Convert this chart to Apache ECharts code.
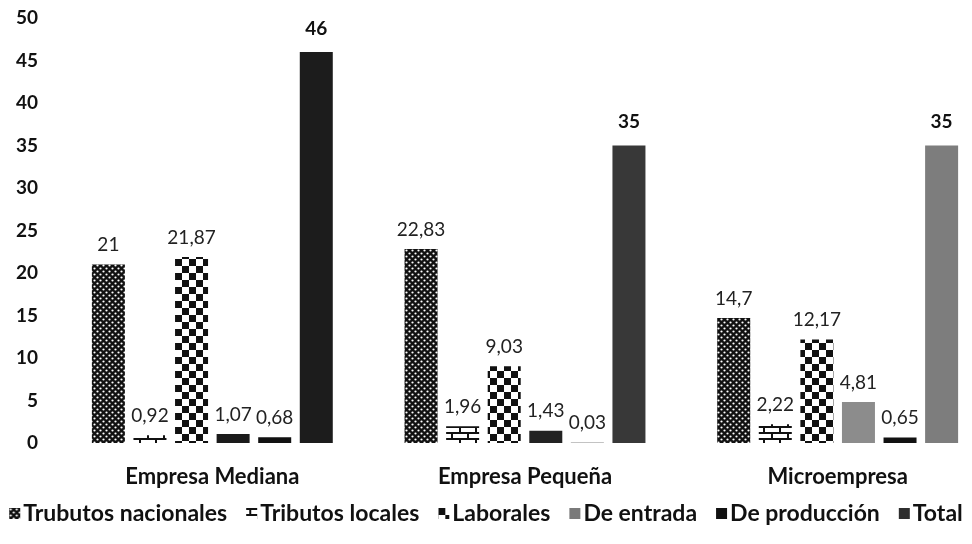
<!DOCTYPE html>
<html>
<head>
<meta charset="utf-8">
<script src="https://cdn.jsdelivr.net/npm/echarts@6/dist/echarts.min.js"></script>
<style>
  html, body { margin: 0; padding: 0; background: #fff; }
  #chart { width: 972px; height: 544px; }
</style>
</head>
<body>
<div id="chart"></div>
<script>
const categories = ['Empresa Mediana', 'Empresa Pequeña', 'Microempresa']
const seriesNames = ['Trubutos nacionales', 'Tributos locales', 'Laborales', 'De entrada', 'De producción', 'Total']
const nacionales = [21, 22.83, 14.7]
const locales = [0.92, 1.96, 2.22]
const laborales = [21.87, 9.03, 12.17]
const deEntrada = [1.07, 1.43, 4.81]
const deProduccion = [0.68, 0.03, 0.65]
const total = [46, 35, 35]
const yTicks = [0, 5, 10, 15, 20, 25, 30, 35, 40, 45, 50]

// patrones tipo impresion
function makePattern(w, h, draw) {
  const c = document.createElement('canvas')
  c.width = w
  c.height = h
  const ctx = c.getContext('2d')
  draw(ctx)
  return { image: c, repeat: 'repeat' }
}

const dotted = makePattern(6, 6, ctx => {
  ctx.fillStyle = '#111'
  ctx.fillRect(0, 0, 6, 6)
  ctx.fillStyle = '#fff'
  ctx.beginPath(); ctx.arc(1.5, 1.5, 1.1, 0, Math.PI * 2); ctx.fill()
  ctx.beginPath(); ctx.arc(4.5, 4.5, 1.1, 0, Math.PI * 2); ctx.fill()
})

const checker = makePattern(14, 14, ctx => {
  ctx.fillStyle = '#fff'
  ctx.fillRect(0, 0, 14, 14)
  ctx.fillStyle = '#111'
  ctx.fillRect(0, 0, 7, 7)
  ctx.fillRect(7, 7, 7, 7)
})

const brick = makePattern(16, 12, ctx => {
  ctx.fillStyle = '#fff'
  ctx.fillRect(0, 0, 16, 12)
  ctx.fillStyle = '#111'
  ctx.fillRect(0, 0, 16, 2)
  ctx.fillRect(0, 6, 16, 2)
  ctx.fillRect(3, 0, 2, 6)
  ctx.fillRect(11, 6, 2, 6)
})

const entradaColors = ['#1a1a1a', '#222222', '#8c8c8c']
const totalColors = ['#1c1c1c', '#383838', '#7d7d7d']

const fmt = p => String(p.value).replace('.', ',')
const fontName = 'Lato'

function smallLabel() {
  return {
    show: true,
    position: 'top',
    distance: 10,
    formatter: fmt,
    fontFamily: fontName,
    fontSize: 19,
    color: '#222'
  }
}

function mkSeries(name, values, color, colors, bold) {
  return {
    name: name,
    type: 'bar',
    barWidth: 33,
    barGap: '26%',
    itemStyle: { color: color },
    label: bold ? Object.assign(smallLabel(), { fontWeight: 'bold', fontSize: 19, color: '#111', distance: 14 }) : smallLabel(),
    data: values.map((v, i) => colors ? { value: v, itemStyle: { color: colors[i] } } : v)
  }
}

let myChart = echarts.init(document.getElementById('chart'))
let option = {
  animation: false,
  backgroundColor: '#fff',
  grid: { left: 56, width: 938, top: 18, bottom: 101, containLabel: false, outerBoundsMode: 'none' },
  legend: {
    bottom: 14,
    left: 'center',
    itemWidth: 11,
    itemHeight: 11,
    itemGap: 19,
    icon: 'rect',
    textStyle: { fontFamily: fontName, fontWeight: 'bold', fontSize: 23, color: '#111', padding: [0, 0, 0, -2] },
    data: seriesNames.map((n, i) => i === 3 ? { name: n, itemStyle: { color: '#7a7a7a' } } : i === 5 ? { name: n, itemStyle: { color: '#2e2e2e' } } : n)
  },
  xAxis: {
    type: 'category',
    data: categories,
    axisLine: { show: false },
    axisTick: { show: false },
    axisLabel: { margin: 23, fontFamily: fontName, fontWeight: 'bold', fontSize: 22, color: '#111' }
  },
  yAxis: {
    type: 'value',
    min: yTicks[0],
    max: yTicks[yTicks.length - 1],
    interval: 5,
    splitLine: { show: false },
    axisLine: { show: false },
    axisTick: { show: false },
    axisLabel: { margin: 18, fontFamily: fontName, fontWeight: 'bold', fontSize: 19, color: '#111' }
  },
  series: [
    mkSeries(seriesNames[0], nacionales, dotted),
    mkSeries(seriesNames[1], locales, brick),
    mkSeries(seriesNames[2], laborales, checker),
    mkSeries(seriesNames[3], deEntrada, '#7a7a7a', entradaColors),
    mkSeries(seriesNames[4], deProduccion, '#111111'),
    mkSeries(seriesNames[5], total, '#2e2e2e', totalColors, true)
  ]
}
myChart.setOption(option, true)
</script>
</body>
</html>
